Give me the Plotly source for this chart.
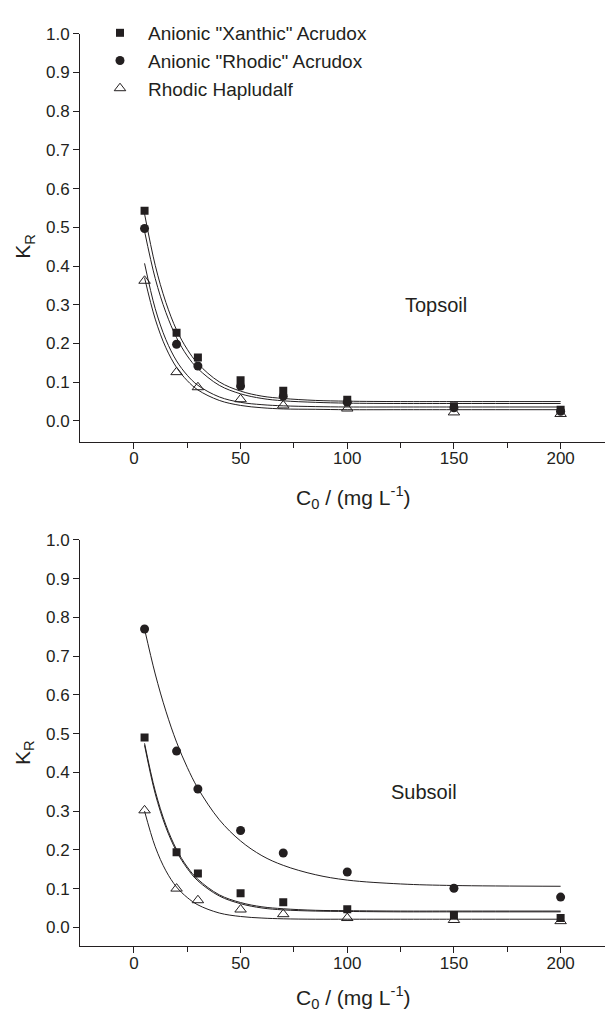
import plotly.graph_objects as go

# Initial concentrations (mg/L)
conc = [5, 20, 30, 50, 70, 100, 150, 200]

# Measured K_R, topsoil
top_xanthic = [0.543, 0.228, 0.164, 0.105, 0.078, 0.055, 0.038, 0.029]
top_rhodic = [0.497, 0.198, 0.142, 0.090, 0.064, 0.048, 0.034, 0.025]
top_hapludalf = [0.362, 0.126, 0.087, 0.056, 0.040, 0.032, 0.022, 0.018]

# Measured K_R, subsoil
bot_xanthic = [0.490, 0.194, 0.139, 0.088, 0.065, 0.047, 0.032, 0.024]
bot_rhodic = [0.770, 0.455, 0.357, 0.250, 0.192, 0.143, 0.101, 0.078]
bot_hapludalf = [0.302, 0.100, 0.070, 0.046, 0.034, 0.024, 0.019, 0.016]

# Fitted decay curves
fit_conc = [5, 10, 15, 20, 25, 30, 40, 50, 60, 70, 85, 100, 125, 150, 200]
fit_top_xanthic = [0.535, 0.402, 0.306, 0.235, 0.185, 0.148, 0.101, 0.077, 0.064, 0.058, 0.053, 0.051, 0.050, 0.050, 0.050]
fit_top_rhodic = [0.490, 0.368, 0.280, 0.215, 0.168, 0.135, 0.092, 0.070, 0.058, 0.052, 0.048, 0.046, 0.045, 0.045, 0.045]
fit_top_hap_a = [0.407, 0.290, 0.210, 0.155, 0.118, 0.092, 0.062, 0.048, 0.042, 0.039, 0.037, 0.036, 0.036, 0.036, 0.036]
fit_top_hap_b = [0.370, 0.263, 0.189, 0.138, 0.104, 0.080, 0.053, 0.040, 0.034, 0.031, 0.030, 0.029, 0.029, 0.029, 0.029]

fit_bot_rhodic = [0.770, 0.654, 0.558, 0.478, 0.413, 0.359, 0.278, 0.223, 0.185, 0.160, 0.136, 0.122, 0.112, 0.108, 0.106]
fit_bot_xanthic_a = [0.475, 0.352, 0.264, 0.201, 0.156, 0.124, 0.084, 0.064, 0.053, 0.048, 0.044, 0.043, 0.042, 0.042, 0.042]
fit_bot_xanthic_b = [0.470, 0.345, 0.258, 0.196, 0.152, 0.120, 0.081, 0.061, 0.050, 0.045, 0.042, 0.041, 0.040, 0.040, 0.040]
fit_bot_hap = [0.300, 0.208, 0.146, 0.104, 0.077, 0.058, 0.037, 0.028, 0.024, 0.022, 0.021, 0.021, 0.021, 0.021, 0.021]

series_names = ['Anionic "Xanthic" Acrudox', 'Anionic "Rhodic" Acrudox', 'Rhodic Hapludalf']
x_ticks = [0, 50, 100, 150, 200]
y_ticks = [0.0, 0.1, 0.2, 0.3, 0.4, 0.5, 0.6, 0.7, 0.8, 0.9, 1.0]

INK = "#231f20"
FONT = "Liberation Sans, Arial, sans-serif"
W, H = 605, 1016

fig = go.Figure()

marker_styles = [
    dict(symbol="square", size=8, color=INK, line=dict(width=0)),
    dict(symbol="circle", size=9, color=INK, line=dict(width=0)),
    dict(symbol="triangle-up-open", size=10, color=INK, line=dict(width=1, color=INK)),
]

# fitted curves (drawn first so markers sit on top)
for xa, ya, curves in [
    ("x", "y", [fit_top_xanthic, fit_top_rhodic, fit_top_hap_a, fit_top_hap_b]),
    ("x2", "y2", [fit_bot_rhodic, fit_bot_xanthic_a, fit_bot_xanthic_b, fit_bot_hap]),
]:
    for c in curves:
        fig.add_trace(go.Scatter(
            x=fit_conc, y=c, mode="lines", xaxis=xa, yaxis=ya,
            line=dict(color=INK, width=1, shape="spline", smoothing=1.0),
            showlegend=False, hoverinfo="skip",
        ))

for i, (vals, name) in enumerate(zip([top_xanthic, top_rhodic, top_hapludalf], series_names)):
    fig.add_trace(go.Scatter(
        x=conc, y=vals, mode="markers", name=name, xaxis="x", yaxis="y",
        marker=marker_styles[i], showlegend=True,
    ))
for i, (vals, name) in enumerate(zip([bot_xanthic, bot_rhodic, bot_hapludalf], series_names)):
    fig.add_trace(go.Scatter(
        x=conc, y=vals, mode="markers", name=name, xaxis="x2", yaxis="y2",
        marker=marker_styles[i], showlegend=False,
    ))

x_left = 80 / W
xrange = [-25.26, 220.8]
TICK_SIZE = 17

def xaxis_cfg(anchor):
    return dict(
        domain=[x_left, 1.0], range=xrange, anchor=anchor,
        showline=True, linecolor=INK, linewidth=1, mirror=False,
        showgrid=False, zeroline=False,
        ticks="outside", ticklen=6, tickwidth=1, tickcolor=INK,
        ticklabelstandoff=-5,
        tickvals=x_ticks, tickfont=dict(size=TICK_SIZE, color=INK, family=FONT),
        minor=dict(tickvals=[25, 75, 125, 175], ticks="outside", ticklen=5, tickwidth=1, tickcolor=INK),
    )

def yaxis_cfg(anchor, domain, rng):
    return dict(
        domain=domain, range=rng, anchor=anchor,
        showline=True, linecolor=INK, linewidth=1, mirror=False,
        showgrid=False, zeroline=False,
        ticks="outside", ticklen=6, tickwidth=1, tickcolor=INK,
        tickvals=y_ticks, tickformat=".1f",
        tickfont=dict(size=TICK_SIZE, color=INK, family=FONT),
    )

fig.update_layout(
    width=W, height=H,
    margin=dict(l=0, r=0, t=0, b=0),
    paper_bgcolor="white", plot_bgcolor="white",
    font=dict(family=FONT, color=INK),
    xaxis=xaxis_cfg("y"),
    yaxis=yaxis_cfg("x", [1 - 436.7 / H, 1 - 25 / H], [-0.054, 1.0]),
    xaxis2=xaxis_cfg("y2"),
    yaxis2=yaxis_cfg("x2", [1 - 945.7 / H, 1 - 535.7 / H], [-0.049, 1.0]),
    legend=dict(
        x=92 / W, y=1 - 5 / H, xanchor="left", yanchor="top",
        font=dict(size=19, color=INK, family=FONT),
        bgcolor="rgba(0,0,0,0)", borderwidth=0, tracegroupgap=0,
        itemwidth=46,
    ),
    showlegend=True,
)

axis_title = "C<sub>0</sub> / (mg L<sup>-1</sup>)"
title_font = dict(size=21, color=INK, family=FONT)
annos = [
    dict(text=axis_title, x=353 / W, y=1 - 493 / H, xref="paper", yref="paper",
         xanchor="center", yanchor="middle", showarrow=False, font=title_font),
    dict(text=axis_title, x=353 / W, y=1 - 997 / H, xref="paper", yref="paper",
         xanchor="center", yanchor="middle", showarrow=False, font=title_font),
    dict(text="K<sub>R</sub>", x=24 / W, y=0.45, xref="paper", yref="y",
         xanchor="center", yanchor="middle", textangle=-90, showarrow=False, font=title_font),
    dict(text="K<sub>R</sub>", x=24 / W, y=0.45, xref="paper", yref="y2",
         xanchor="center", yanchor="middle", textangle=-90, showarrow=False, font=title_font),
    dict(text="Topsoil", x=141.5, y=0.30, xref="x", yref="y",
         xanchor="center", yanchor="middle", showarrow=False, font=dict(size=20, color=INK, family=FONT)),
    dict(text="Subsoil", x=136, y=0.35, xref="x2", yref="y2",
         xanchor="center", yanchor="middle", showarrow=False, font=dict(size=20, color=INK, family=FONT)),
]
fig.update_layout(annotations=annos)

fig.write_html("out.html")
